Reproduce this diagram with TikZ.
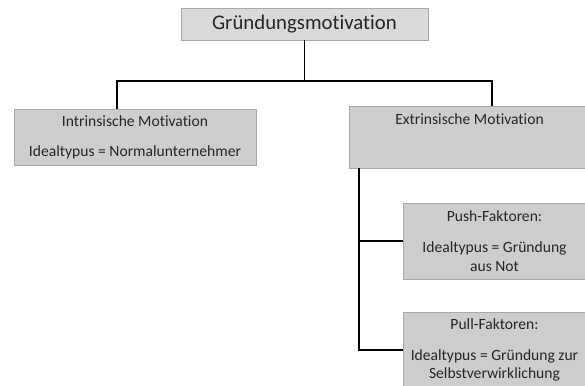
\documentclass[tikz,border=0pt]{standalone}
\usepackage{fontspec}
\setmainfont[Ligatures=NoCommon]{Carlito}
\definecolor{boxfill}{HTML}{CDCDCD}
\definecolor{topfill}{HTML}{D9D9D9}
\definecolor{boxline}{HTML}{A8A8A8}
\definecolor{txt}{HTML}{262626}
\tikzset{
  box/.style={draw=boxline, line width=0.8pt, fill=boxfill, text=txt, align=center, inner sep=0pt,
    font=\fontsize{15.6}{18.5}\selectfont},
  conn/.style={draw=black, line width=1.9pt},
}
\begin{document}
\begin{tikzpicture}[x=1pt,y=-1pt]
\useasboundingbox (0,0) rectangle (585,385);
\clip (0,0) rectangle (585,385);
\fill[white] (0,0) rectangle (585,385);
\node[box, fill=topfill, minimum width=247pt, minimum height=32pt, font=\fontsize{20.8}{24}\selectfont] (top) at (304.5,24) {Gründungsmotivation};
\node[box, minimum width=242pt, minimum height=56pt] (intr) at (135,137) {Intrinsische Motivation\\[11.5pt]Idealtypus = Normalunternehmer};
\node[box, minimum width=241pt, minimum height=62pt] (ext) at (469.5,137) {};
\node[text=txt, font=\fontsize{15.6}{18.5}\selectfont, inner sep=0pt] (extt) at (469.5,119) {Extrinsische Motivation};
\node[box, minimum width=183pt, minimum height=76pt] (push) at (494.5,241) {Push-Faktoren:\\[12.5pt]Idealtypus = Gründung\\aus Not};
\node[box, minimum width=183pt, minimum height=76pt] (pull) at (494.5,350) {Pull-Faktoren:\\[12.5pt]Idealtypus = Gründung zur\\Selbstverwirklichung};
\coordinate (bl) at (117,81);
\coordinate (br) at (492,81);
\coordinate (ev) at (359,200);
\draw[conn] (top.south) -- (top.south |- bl);
\draw[conn] (intr.north -| bl) -- (bl) -- (br) -- (ext.north -| br);
\draw[conn] (ext.south -| ev) |- (pull.west);
\draw[conn] (push.west) -- (push.west -| ev);
\end{tikzpicture}
\end{document}
